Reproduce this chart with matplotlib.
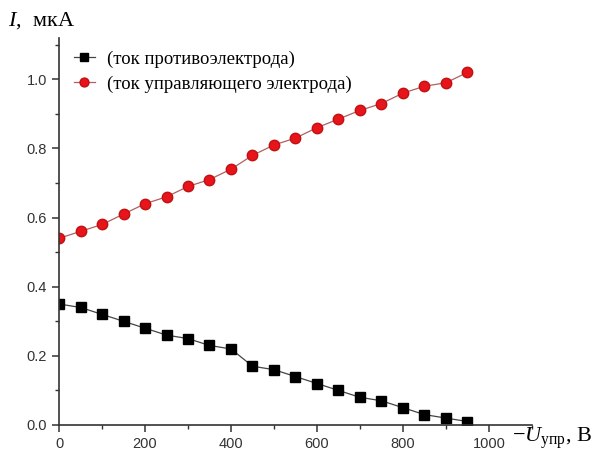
import matplotlib
matplotlib.use('Agg')
import matplotlib.pyplot as plt
from matplotlib.ticker import MultipleLocator

u = [0, 50, 100, 150, 200, 250, 300, 350, 400, 450,
     500, 550, 600, 650, 700, 750, 800, 850, 900, 950]
i_counter = [0.35, 0.34, 0.32, 0.30, 0.28, 0.26, 0.25, 0.23, 0.22, 0.17,
             0.16, 0.14, 0.12, 0.10, 0.08, 0.07, 0.05, 0.03, 0.02, 0.01]
i_control = [0.54, 0.56, 0.58, 0.61, 0.64, 0.66, 0.69, 0.71, 0.74, 0.78,
             0.81, 0.83, 0.86, 0.885, 0.91, 0.93, 0.96, 0.98, 0.99, 1.02]
labels = ['(ток противоэлектрода)', '(ток управляющего электрода)']

plt.rcParams['mathtext.fontset'] = 'custom'
plt.rcParams['mathtext.rm'] = 'Liberation Serif'
plt.rcParams['mathtext.it'] = 'Liberation Serif:italic'

fig = plt.figure(figsize=(5.95, 4.71), dpi=100)
ax = fig.add_axes([0.0992, 0.0977, 0.7948, 0.822])

ax.plot(u, i_counter, color='#444444', linewidth=0.9, marker='s', markersize=6.5,
        markerfacecolor='black', markeredgecolor='black', label=labels[0])
ax.plot(u, i_control, color='#b06060', linewidth=0.9, marker='o', markersize=7.5,
        markerfacecolor='#e8141c', markeredgecolor='#c01010', label=labels[1])

ax.set_xlim(0, 1100)
ax.set_ylim(0, 1.12)
ax.xaxis.set_major_locator(MultipleLocator(200))
ax.xaxis.set_minor_locator(MultipleLocator(100))
ax.yaxis.set_major_locator(MultipleLocator(0.2))
ax.yaxis.set_minor_locator(MultipleLocator(0.1))
ax.spines['top'].set_visible(False)
ax.spines['right'].set_visible(False)
for s in ['left', 'bottom']:
    ax.spines[s].set_linewidth(1.2)
    ax.spines[s].set_color('#333333')
ax.tick_params(which='major', direction='out', length=5, width=1.1,
               labelsize=10.5, colors='#333333')
ax.tick_params(which='minor', direction='out', length=3, width=1.0, colors='#333333')
for lbl in ax.get_xticklabels() + ax.get_yticklabels():
    lbl.set_family('Liberation Sans')

ax.legend(loc='upper left', bbox_to_anchor=(0.031, 0.968), frameon=False,
          prop={'family': 'Liberation Serif', 'size': 13.5},
          borderaxespad=0, borderpad=0, markerscale=0.85,
          handlelength=1.15, handletextpad=0.65, labelspacing=0.42)

fig.text(0.013, 0.945, r'$I$,  мкА', fontsize=16, family='Liberation Serif')
fig.text(0.860, 0.062, r'$-U_{\mathrm{упр}}$, В', fontsize=16, family='Liberation Serif')

fig.savefig('out.png', dpi=100)
